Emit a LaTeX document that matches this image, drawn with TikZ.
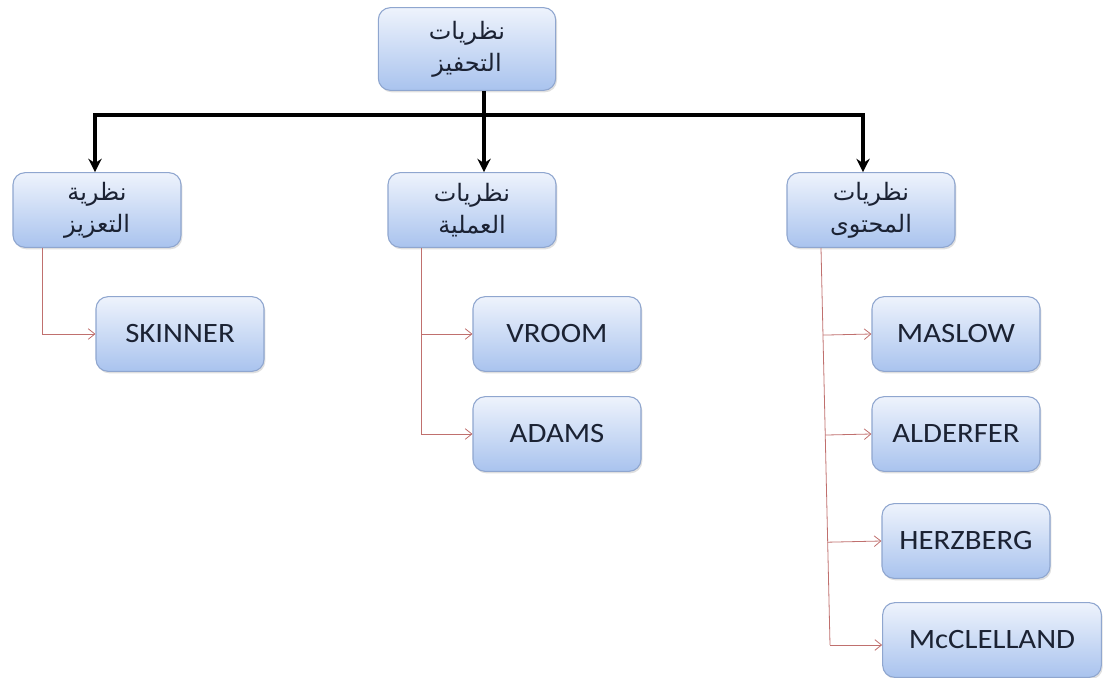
\documentclass[tikz,border=0pt]{standalone}
\usepackage{fontspec}
\setmainfont{Carlito}[FakeStretch=1.1]
\newfontfamily\arabicfont[Script=Arabic]{DejaVu Sans}
\TeXXeTstate=1
\usetikzlibrary{arrows.meta, shadows, calc}

\definecolor{boxtop}{HTML}{EEF3FC}
\definecolor{boxbot}{HTML}{A9C3EE}
\definecolor{boxline}{HTML}{8FA6CF}
\definecolor{linkred}{HTML}{C0706E}
\definecolor{inktext}{HTML}{1B2233}

\begin{document}
\begin{tikzpicture}[x=0.75pt, y=-0.75pt,
  box/.style={draw=boxline, line width=0.8pt, rounded corners=9pt,
    top color=boxtop, bottom color=boxbot, text=inktext,
    minimum width=126pt, minimum height=56pt, inner sep=2pt,
    align=center, font=\fontsize{21}{23}\selectfont,
    drop shadow={opacity=0.25, shadow xshift=1pt, shadow yshift=-1.5pt}},
  arbox/.style={box, font=\arabicfont\fontsize{18}{24}\selectfont},
  trunk/.style={line width=2.6pt, black},
  feed/.style={trunk, -{Stealth[length=10pt, width=10pt]}},
  branch/.style={linkred, line width=0.6pt, -{Straight Barb[length=5pt, width=8pt]}}
]
\useasboundingbox (0,0) rectangle (1103,678);

%% --- root ---
\node[arbox, minimum width=133pt, minimum height=62pt] (root) at (467,49)
  {\beginR نظريات\endR\\\beginR التحفيز\endR};

%% --- three families of theories ---
\node[arbox] (reinf)   at (97,210)  {\beginR نظرية\endR\\\beginR التعزيز\endR};
\node[arbox] (process) at (472,210) {\beginR نظريات\endR\\\beginR العملية\endR};
\node[arbox] (content) at (871,210) {\beginR نظريات\endR\\\beginR المحتوى\endR};

%% --- authors ---
\node[box] (skinner)    at (180,334) {SKINNER};
\node[box] (vroom)      at (557,334) {VROOM};
\node[box] (adams)      at (557,434) {ADAMS};
\node[box] (maslow)     at (956,334) {MASLOW};
\node[box] (alderfer)   at (956,434) {ALDERFER};
\node[box] (herzberg)   at (966,541) {HERZBERG};
\node[box, minimum width=164pt] (mcclelland) at (992,640) {McCLELLAND};

%% --- black tree from the root ---
\coordinate (hub) at (484,115);
\draw[trunk] (root.south -| hub) -- (hub);
\draw[feed] (hub) -| ([xshift=-1.5pt]reinf.north);
\draw[feed] (hub) -- (process.north -| hub);
\draw[feed] (hub) -| ([xshift=-6pt]content.north);

%% --- red links: reinforcement ---
\coordinate (rtop) at (42,248);
\draw[branch] (rtop) |- (skinner.west);

%% --- red links: process ---
\coordinate (ptop) at (421,248);
\draw[branch] (ptop) |- (adams.west);
\draw[branch] (vroom.west -| ptop) -- (vroom.west);

%% --- red links: content ---
\coordinate (ctop) at (821,248);
\coordinate (cbot) at (830,645);
\draw[linkred, line width=0.6pt] (ctop) -- (cbot);
\draw[branch] (cbot) -- (mcclelland.west |- cbot);
\draw[branch] ($(ctop)!(maslow.west)!(cbot)$) -- (maslow.west);
\draw[branch] ($(ctop)!(alderfer.west)!(cbot)$) -- (alderfer.west);
\draw[branch] ($(ctop)!(herzberg.west)!(cbot)$) -- (herzberg.west);

\end{tikzpicture}
\end{document}
